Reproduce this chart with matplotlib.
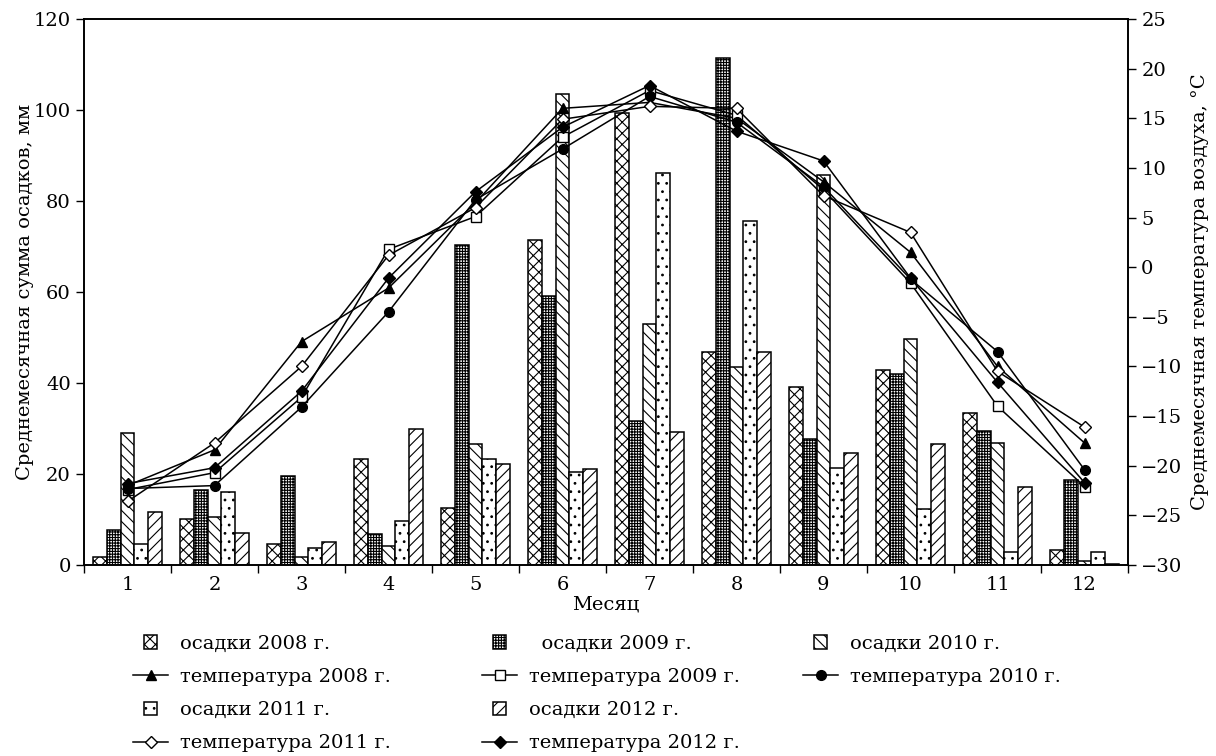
"""Осадки и температура по месяцам, 2008-2012"""
import numpy as np
import matplotlib.pyplot as plt
from matplotlib.patches import Rectangle
from matplotlib.legend_handler import HandlerPatch

plt.rcParams['font.family'] = ['DejaVu Serif']
plt.rcParams['hatch.linewidth'] = 0.8

months = np.arange(1, 13)
years = ['2008', '2009', '2010', '2011', '2012']

# осадки, мм
prec_2008 = [1.8, 10.1, 4.6, 23.4, 12.5, 71.4, 99.3, 46.8, 39.2, 42.8, 33.4, 3.3]
prec_2009 = [7.7, 16.4, 19.6, 6.9, 70.3, 59.2, 31.7, 111.4, 27.8, 42.0, 29.4, 18.7]
prec_2010 = [29.0, 10.5, 1.8, 4.2, 26.6, 103.5, 52.9, 43.5, 85.7, 49.6, 26.9, 0.9]
prec_2011 = [4.6, 16.0, 3.8, 9.7, 23.3, 20.4, 86.2, 75.6, 21.4, 12.4, 2.9, 2.9]
prec_2012 = [11.6, 7.0, 5.0, 29.9, 22.2, 21.2, 29.3, 46.8, 24.6, 26.5, 17.1, 0.3]

# температура, °C
temp_2008 = [-22.0, -18.4, -7.5, -2.1, 6.5, 16.0, 16.6, 15.0, 8.6, 1.5, -10.0, -17.7]
temp_2009 = [-22.4, -20.7, -13.1, 1.8, 5.1, 13.1, 17.8, 15.3, 7.8, -1.6, -14.0, -22.1]
temp_2010 = [-22.3, -22.0, -14.1, -4.5, 6.8, 11.9, 17.2, 14.6, 8.1, -1.2, -8.5, -20.4]
temp_2011 = [-23.6, -17.7, -10.0, 1.2, 6.0, 14.9, 16.2, 16.0, 7.2, 3.5, -10.5, -16.1]
temp_2012 = [-21.8, -20.2, -12.5, -1.1, 7.6, 14.1, 18.3, 13.7, 10.7, -1.1, -11.6, -21.7]

prec = [prec_2008, prec_2009, prec_2010, prec_2011, prec_2012]
temp = [temp_2008, temp_2009, temp_2010, temp_2011, temp_2012]
hatches = ['xxx', '++++++', '\\\\\\', '..', '///']
markers = [('^', 'k'), ('s', 'w'), ('o', 'k'), ('D', 'w'), ('D', 'k')]
msizes = [7, 7, 7, 6, 6]

fig = plt.figure(figsize=(12.16, 7.56), dpi=100)
ax = fig.add_axes([84/1216, 1 - 565/756, 1044/1216, 546/756])
ax2 = ax.twinx()

w = 0.158
bars = []
for i, y in enumerate(years):
    b = ax.bar(months + (i - 2) * w, prec[i], w, color='white', edgecolor='black',
               linewidth=1.1, hatch=hatches[i])
    bars.append(b.patches[0])

lines = []
for i, y in enumerate(years):
    m, fc = markers[i]
    l, = ax2.plot(months, temp[i], color='black', lw=1.1, marker=m, ms=msizes[i],
                  mfc=fc, mec='black', mew=1.0)
    lines.append(l)

ax.set_xlim(0.5, 12.5)
ax.set_ylim(0, 120)
ax2.set_ylim(-30, 25)
ax.set_xticks(months)
ax.set_xticks(np.arange(0.5, 13, 1), minor=True)
ax.tick_params(axis='x', which='major', length=0, labelsize=14, pad=8)
ax.tick_params(axis='x', which='minor', length=6, direction='out', width=1)
ax.set_yticks(np.arange(0, 121, 20))
ax.tick_params(axis='y', length=6, direction='out', width=1, labelsize=14)
ax2.set_yticks(np.arange(-30, 26, 5))
ax2.tick_params(axis='y', length=6, direction='out', width=1, labelsize=14)
for a in (ax, ax2):
    for s in a.spines.values():
        s.set_linewidth(1.2)

ax.set_xlabel('Месяц', fontsize=14, labelpad=1)
ax.set_ylabel('Среднемесячная сумма осадков, мм', fontsize=14, labelpad=0)
ax2.set_ylabel('Среднемесячная температура воздуха, °C', fontsize=14, labelpad=6)


def small_box(legend, orig_handle, xdescent, ydescent, width, height, fontsize):
    s = height
    return Rectangle((width / 2 - s / 2 - xdescent, height / 2 - s / 2 - ydescent), s, s)


hmap = {Rectangle: HandlerPatch(patch_func=small_box)}
cols = [
    ([bars[0], lines[0], bars[3], lines[3]],
     ['осадки 2008 г.', 'температура 2008 г.', 'осадки 2011 г.', 'температура 2011 г.'], 133),
    ([bars[1], lines[1], bars[4], lines[4]],
     ['  осадки 2009 г.', 'температура 2009 г.', 'осадки 2012 г.', 'температура 2012 г.'], 482),
    ([bars[2], lines[2]],
     ['осадки 2010 г.', 'температура 2010 г.'], 803),
]
for h, lab, x0 in cols:
    fig.legend(h, lab, loc='upper left', bbox_to_anchor=(x0/1216, 1 - 635/756),
               frameon=False, fontsize=14, borderpad=0, borderaxespad=0,
               handlelength=1.8, handletextpad=0.6, labelspacing=0.78,
               handler_map=hmap)

fig.savefig('out.png', dpi=100)
